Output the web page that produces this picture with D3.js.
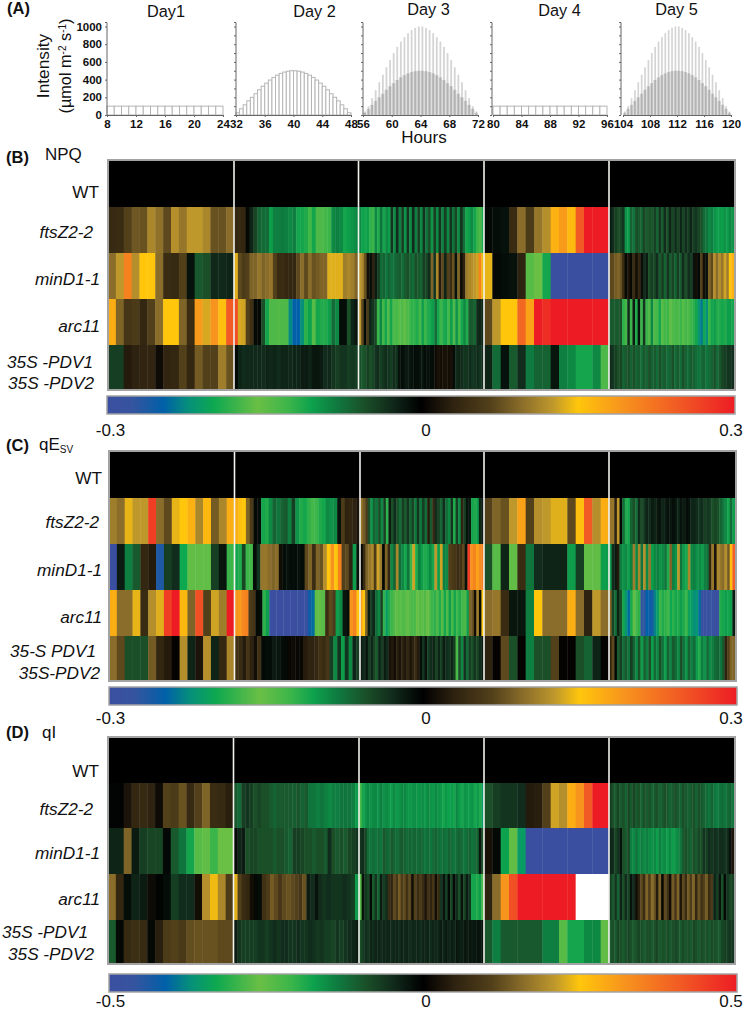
<!DOCTYPE html>
<html><head><meta charset="utf-8">
<script src="https://cdn.jsdelivr.net/npm/d3@7"></script>
<style>html,body{margin:0;background:#fff}svg{display:block}text{font-family:"Liberation Sans",Arial,sans-serif;fill:#111}</style>
</head><body><svg id="c" width="750" height="1011"></svg>
<script>
// ---------- Panel A: light regime (µmol m-2 s-1) ----------
const dayNames = ["Day1","Day 2","Day 3","Day 4","Day 5"];
const dayStarts = [8,32,56,80,104];
const yTicks = [0,200,400,600,800,1000];
const lowLight = [100,100,100,100,100,100,100,100,100,100,100,100,100,100,100,100];
const peak500 = [25,70,115,160,200,240,285,325,360,395,425,450,470,485,495,500,500,495,485,470,450,425,395,360,325,285,240,200,160,115,70,25];
const peak1000 = [40,100,190,280,370,455,540,620,700,770,830,880,925,960,985,1000,1000,985,960,925,880,830,770,700,620,540,455,370,280,190,100,40];

// ---------- Heat maps: each row = [day1, day2, day3, day4, day5], % of colour-bar full scale ----------
const wtRow = [[0],[0],[0],[0],[0]];
const npq_ftsZ = [
[13,14,22,27,26,38,33,24,40,34,42,42,38,26,26,32],
[12,13,12,-2,-8,-16,-22,-24,-24,-34,-28,-28,-27,-28,-30,-28,-36,-36,-38,-44,-36,-46,-46,-44,-42,-30,-28,-30,-36,-34,-32,-30],
[-30,-35,-36,-34,-40,-42,-30,-38,-26,-36,-30,-34,-12,-30,-10,-28,-14,-32,-12,-30,-10,-28,-14,-30,-12,-26,-18,-32,-14,-30,-12,-28,-14,-30,-12,-26,-16,-30,-12,-24,-36,-34,-30,-36,-42,-46,-38],
[-2,-3,-4,14,32,20,34,40,56,62,53,82,100,100,100],
[-6,-10,-14,-18,-16,-12,-32,-34,-22,-26,-18,-20,-22,-16,-20,-18,-20,-14,-22,-12,-20,-10,-18,-8,-16,-10,-16,-8,-16,-10,-14,-8,-14,-12,-16,-18,-24,-26,-30,-28,-32,-34,-34,-34,-32,-34,-30,-32]];
const npq_minD = [
[32,42,70,40,50,50,32,14,13,22,-4,-20,-18,-9,-9,-8],
[46,24,20,22,30,30,34,30,32,34,22,14,14,12,12,12,24,32,24,32,26,28,30,30,46,46,46,46,36,38,36,30],
[42,38,26,4,-3,10,-6,-14,-24,-22,-26,-22,-26,-24,-22,-20,-24,-20,-18,-22,-24,-18,-20,-22,-14,-16,-10,30,-12,38,8,24,-8,22,14,26,-4,30,4,10,36,38,40,42,44,70,48],
[47,-2,-3,-4,10,-48,-52,-36,-100,-100,-100,-100,-100,-100,-100],
[24,24,28,30,26,14,-2,6,2,14,4,12,3,-10,-6,-18,-14,-16,-10,-20,-14,-22,-12,-20,-16,-22,-14,-20,-10,-18,-10,-14,-4,4,-2,22,4,-4,30,24,40,32,40,34,44,36,50,56]];
const npq_arc = [
[57,30,18,20,12,22,32,50,50,30,14,62,45,64,52,82],
[85,45,44,22,16,-2,-2,-18,-36,-46,-46,-47,-46,-46,-75,-82,-82,-74,-40,-35,-48,-36,-38,-38,-34,-24,-30,-3,-3,-18,-8,-5],
[42,24,-2,20,-8,-12,-16,-42,-30,-44,-36,-46,-36,-46,-44,-48,-46,-50,-46,-44,-40,-40,-38,-44,-34,-42,-38,-36,-34,-24,-36,-42,-38,-36,-44,-34,-46,-32,-44,-36,-30,-38,-20,-20,-22,-10,-8,-8],
[24,42,50,50,78,60,100,95,100,100,100,100,100,100,100],
[-20,-20,-20,-20,-18,-40,-44,-10,-42,-6,-38,-4,-42,-12,-42,-46,-30,-46,-44,-36,-48,-44,-42,-50,-46,-44,-46,-42,-48,-44,-46,-42,-40,-36,-72,-78,-66,-74,-42,-36,-34,-38,-38,-36,-38,-34,-34,-36]];
const npq_pdv = [
[-14,-14,8,10,11,11,3,11,12,22,12,28,22,22,36,26],
[-2,-8,-10,-9,-9,-9,-9,-10,-8,-9,-8,-10,-8,-8,-9,-8,-8,-6,-6,-8,-5,-5,-6,-10,-9,-12,-14,-12,-12,-14,-13,-14],
[-18,-20,-18,-14,-18,-16,-12,-10,-14,-12,-10,-12,-14,-10,-12,-4,-3,-4,-6,-5,-4,-3,-3,-4,-5,-3,-4,-3,-3,3,5,4,5,5,4,5,-3,-10,-8,-10,-12,-12,-10,-12,-12,-10,-12,-10],
[-8,-24,-4,-20,-10,-27,-22,-22,-5,-28,-30,-36,-36,-30,-46],
[-10,-12,-14,-18,-16,-22,-20,-18,-22,-18,-22,-20,-24,-20,-22,-18,-22,-20,-24,-18,-22,-20,-24,-22,-18,-24,-20,-24,-18,-22,-24,-20,-22,-24,-26,-24,-22,-26,-24,-22,-18,-24,-20,-16,-14,-12,-12,-10]];

const qe_ftsZ = [
[36,32,47,42,42,90,32,24,47,50,56,38,54,28,38,57],
[57,52,50,30,20,-2,-3,-36,-38,-30,-22,-26,-22,-20,-28,-14,-32,-38,-36,-40,-44,-42,-38,-36,-30,-32,-30,-4,20,10,12,10,6],
[34,28,20,-18,-32,-22,-26,-18,-30,-14,-40,-6,-18,-10,-18,-24,-14,-20,-12,-22,-16,-26,-12,-26,-14,-24,8,-20,12,-10,-16,-22,-10,-24,-30,-12,-38,-14,-30,10,-14,-4,-6,-36,-38,-34,-8,-6],
[22,30,26,42,60,22,40,42,46,46,24,52,82,40,57],
[34,34,10,42,-2,-24,-38,-36,-22,-18,-24,-10,-18,-12,-8,-10,-6,-8,-5,-4,-8,-6,-4,-5,-3,-5,-8,-4,-6,-3,-4,-8,-8,-10,-12,-10,-14,-12,-14,-18,-16,-18,-22,-26,-30,-36,-24,-34]];
const qe_minD = [
[-100,-6,-28,-20,12,8,-88,-14,-10,-66,-50,-50,-50,-14,-5,-42],
[-36,-38,-16,-42,-44,-3,-12,34,34,32,30,32,4,-3,-4,-3,-3,-4,-3,24,30,14,30,26,40,50,64,50,70,22,24,10,-34,-4],
[-2,14,30,34,38,20,44,36,-2,30,12,-30,-22,38,-24,-30,-36,-26,-42,44,-38,-28,-34,-38,-36,-30,-36,42,-34,44,-28,-30,22,20,18,14,16,24,-4,90,64,70,60,66,70],
[-18,-48,-8,-50,14,-26,-10,-8,-8,-8,-34,-14,-50,-50,-34],
[-34,-10,-6,8,-28,-32,-30,-34,-28,36,-30,38,-26,40,-30,34,-34,-30,-28,-32,-30,-26,-38,30,-28,-32,42,-26,-34,-36,38,-30,-28,-32,-30,-34,-28,-26,12,34,6,38,34,32,40,28,52,80]];
const qe_arc = [
[57,32,32,47,14,40,46,90,100,54,30,85,22,44,36,100],
[64,62,68,70,20,18,-2,-3,-40,-34,-100,-100,-100,-100,-100,-100,-100,-100,-100,-100,-100,-85,-80,-50,-50,-48,14,24,20,-34,-30,-5,-3,64,70,50],
[60,50,30,-6,-14,-8,-24,-30,-14,-60,-70,-38,-42,-46,-50,-48,-48,-46,-50,-48,-46,-44,-52,-48,-50,-46,-52,-48,-42,-40,-46,-38,-48,-36,-46,-34,-44,-36,-42,-38,-44,-46,-34,30,26,4,36,-2,50],
[32,34,14,-5,-5,-28,50,32,32,32,57,32,10,42,32],
[30,-16,-24,-8,-18,-36,-72,-80,-64,-50,-58,-40,-92,-90,-82,-84,-86,-76,-70,-42,-38,-40,-44,-66,-40,-36,-38,-34,-38,-42,-68,-70,-74,-72,-80,-96,-100,-98,-92,-96,-100,-98,-38,-36,-34,-36,-34,-6]];
const qe_pdv = [
[32,24,-18,-18,-18,28,12,8,1,40,-8,6,40,-8,12,38],
[16,14,8,18,10,4,16,-2,-3,-3,-6,-5,-3,-2,2,3,2,2,8,10,10,12,16,14,18,-14,-30,-12,-34,-12,-30,-8,-14],
[-6,-10,-4,-14,-8,-16,-20,-8,-14,-6,-10,5,8,4,9,6,10,7,12,6,10,14,8,-3,-12,-4,-14,-10,-8,-16,-8,-14,-6,-10,-12,-8,-14,-45,-18,-30,-12,-24,-14,-18,-12,-16,-10,-6],
[10,1,24,-18,1,-28,-18,-18,22,1,1,-18,-22,-8,1],
[12,24,-2,-20,-14,-24,-20,-26,-14,-22,-30,-18,-34,-22,-28,-18,-34,-24,-30,-18,-26,-34,-22,-28,-20,-24,-30,-18,-26,-32,-22,-28,-24,-34,-38,-28,-32,-24,-30,-28,-24,-22,-26,-20,10,22,30,30]];

const qi_ftsZ = [
[-1,-1,6,12,13,10,3,22,20,26,13,22,30,14,13,9],
[-20,-24,-14,-12,-14,-18,-16,-18,-18,-20,-22,-20,-20,-20,-20,-21,-19,-22,-20,-26,-26,-28,-26,-28,-30,-28,-28,-26,-26,-26,-28,-34],
[-46,-36,-32,-30,-32,-30,-30,-32,-28,-32,-30,-32,-34,-30,-33,-32,-30,-30,-32,-33,-32,-31,-33,-32,-31,-33,-30,-32,-33,-30,-32,-33,-36,-33,-35,-34,-36,-30,-33,-36,-32,-33,-34,-32,-36,-33,-38,-70],
[-18,-14,-12,-12,-10,8,9,22,44,40,57,64,82,100,100],
[-14,-18,-20,-16,-20,-18,-22,-16,-20,-16,-20,-18,-22,-18,-20,-18,-22,-20,-18,-22,-20,-18,-20,-22,-20,-18,-20,-22,-18,-20,-22,-20,-18,-22,-18,-20,-22,-24,-26,-22,-26,-28,-26,-24,-26,-24,-22,-26]];
const qi_minD = [
[-8,-8,30,-6,-14,-16,-16,-2,-20,-26,-36,-48,-50,-42,-52,-52],
[-2,-8,-6,-18,-16,-16,-18,-18,-18,-18,-20,-18,-18,-20,-22,-14,-14,-16,-18,-18,-20,-18,-18,-20,-10,-18,-20,-18,-20,-16,-14,-12],
[-12,-10,-16,-24,-26,-24,-26,-24,-26,-20,-22,-24,-20,-22,-24,-22,-20,-22,-24,-22,-24,-22,-24,-22,-24,-26,-24,-26,-24,-22,-24,-26,-24,-26,-22,-24,-26,-24,-22,-24,-26,-24,-22,-26,-24,-22,-5,-18],
[5,-2,-35,-50,-70,-100,-100,-100,-100,-100,-100,-100,-100,-100,-100],
[-8,-10,-16,-12,-4,-18,-20,-16,-28,-30,-26,-30,-28,-30,-28,-30,-32,-30,-34,-28,-32,-30,-34,-30,-34,-32,-30,-26,-20,-18,-20,-22,-18,-20,-16,-18,-12,-14,-10,-12,-10,-12,-10,-10,-12,-10,-4,6]];
const qi_arc = [
[32,12,-3,-8,-6,3,-1,-3,-14,-10,-10,4,40,48,38,20],
[46,22,14,12,4,-2,-3,16,20,28,24,18,24,26,24,22,18,26,-6,-10,-4,-10,-12,-10,-12,-12,-12,-10,-12,-14,-34],
[-48,-4,-12,-16,-2,-20,-12,-22,-6,-14,-10,14,10,24,18,28,20,24,16,24,4,22,14,20,14,6,16,10,18,4,14,-12,-4,-14,-2,-16,-2,-10,-18,-4,-16,-6,-12,-36,-36,-38,-34,-46],
[10,32,64,85,100,100,100,100,100,100,100,null,null,null,null],
[-14,-20,-12,-22,-8,-18,-10,-16,-4,-10,4,10,24,14,30,20,32,26,8,30,2,24,16,4,28,18,30,6,24,14,28,20,30,12,26,16,22,28,14,20,-8,-14,-4,-18,-2,-12,-16,-14]];
const qi_pdv = [
[-20,-2,13,15,13,-2,9,20,22,19,25,26,26,26,24,24],
[-6,-12,-14,-14,-14,-14,-12,-12,-14,-12,-10,-12,-10,-10,-12,-12,-10,-12,-12,-10,-11,-13,-12,-14,-14,-16,-12,-14,-12,-10,-8,-6],
[-18,-14,-10,-12,-8,-10,-8,-8,-10,-8,-9,-8,-10,-8,-8,-10,-8,-9,-8,-10,-8,-9,-8,-10,-8,-9,-8,-10,-8,-9,-8,-6,-8,-6,-8,-6,-8,-5,-6,-7,-5,-6,-5,-6,-5,-4,-5,-4],
[-20,-28,-20,-20,-20,-20,-20,-28,-28,-48,-36,-36,-30,-30,-50],
[-20,-18,-20,-16,-18,-20,-18,-16,-18,-20,-18,-16,-18,-20,-18,-17,-20,-18,-16,-20,-18,-19,-17,-20,-18,-16,-18,-20,-17,-19,-18,-20,-16,-18,-20,-17,-19,-18,-20,-17,-18,-19,-20,-16,-14,-14,-12,-12]];

// Colour scale (value in % of full scale)
const colourDomain = [-100,-92,-82,-74,-66,-52,-42,-35,-27,-18,-9,0,10,22,32,42,50,64,82,100];
const colourRange = ["#3b4fa0","#36549f","#0060a8","#06907a","#0da850","#6abf45","#3bb54a","#0da24d","#0f7a3f","#1a4f28","#10281a","#000000","#2e2210","#52401a","#8a6d2a","#bf982c","#ffc60b","#f7941d","#f15a24","#ed1c24"];
const colour = d3.scaleLinear().domain(colourDomain).range(colourRange).clamp(true);

const panels = [
 {tag:"(B)",tagY:163,title:"NPQ",titleX:45,titleY:160,x0:108,x1:734,seps:[234,358.5,484,609],ys:[160,207,253,299,345,390],
  rows:[wtRow,npq_ftsZ,npq_minD,npq_arc,npq_pdv],
  labels:[[198,"WT",0,99],[238,"ftsZ2-2",1,93],[285,"minD1-1",1,100],[332,"arc11",1,100],[368,"35S -PDV1",1,93],[389,"35S -PDV2",1,94]],
  bar:[396,414,107,735],barLabel:["-0.3","0","0.3"],labelY:436},
 {tag:"(C)",tagY:451,title:"qE",titleX:39,titleY:450,x0:109,x1:735,seps:[234.5,360,484,609],ys:[451,498,544,590,636,681],
  rows:[wtRow,qe_ftsZ,qe_minD,qe_arc,qe_pdv],
  labels:[[484,"WT",0,102],[528,"ftsZ2-2",1,99],[576,"minD1-1",1,102],[623,"arc11",1,102],[657,"35-S PDV1",1,96],[679,"35S-PDV2",1,100]],
  bar:[687,705,109,737],barLabel:["-0.3","0","0.3"],labelY:724},
 {tag:"(D)",tagY:738,title:"qI",titleX:42,titleY:738,x0:108,x1:734,seps:[233.5,359,484,609],ys:[737,783,828,874,920,964],
  rows:[wtRow,qi_ftsZ,qi_minD,qi_arc,qi_pdv],
  labels:[[777,"WT",0,99],[815,"ftsZ2-2",1,93],[859,"minD1-1",1,100],[905,"arc11",1,100],[938,"35S -PDV1",1,88],[960,"35S -PDV2",1,94]],
  bar:[974,992,109,737],barLabel:["-0.5","0","0.5"],labelY:1007}
];

const svg = d3.select("#c");
const defs = svg.append("defs");

// ---------- Panel A ----------
const gA = svg.append("g");
gA.append("text").attr("x",7).attr("y",14).attr("font-weight","bold").attr("font-size",16.5).text("(A)");
const yA = d3.scaleLinear().domain([0,1000]).range([115,26.5]);
const dayX = [[107,223],[236,351],[363,478],[493,607],[623,731]];
const axisX = [107,236,363,492,621];
const dayTitleX = [166,314.5,428.5,559.5,676.5];
const dayTitleY = [17,17,15,16,15];
const bars = [[lowLight],[peak500],[peak500,peak1000],[lowLight],[peak500,peak1000]];
dayNames.forEach((name,i)=>{
  const st = dayStarts[i];
  const x = d3.scaleLinear().domain([st,st+16]).range(dayX[i]);
  const g = gA.append("g");
  bars[i].forEach((vals,si)=>{
    const step = 16/vals.length;
    const both = bars[i].length>1;
    g.selectAll(null).data(vals).join("rect")
      .attr("x",(d,k)=>x(st+k*step)+(si==1?(x(st+step)-x(st))*0.28:0))
      .attr("y",d=>yA(d))
      .attr("width",(x(st+step)-x(st))*(si==1?0.5:1))
      .attr("height",d=>yA(0)-yA(d))
      .attr("fill",both?(si==0?"#d6d6d6":"#000"):"#fff")
      .attr("fill-opacity",both&&si==1?0.17:1)
      .attr("stroke",both?"none":"#b5b5b5").attr("stroke-width",1);
  });
  const ax = d3.axisBottom(x).tickValues(d3.range(st,st+17,4)).tickSize(2);
  const ga = g.append("g").attr("transform","translate(0,115)").call(ax);
  ga.select(".domain").attr("stroke","#666");
  ga.selectAll("line").attr("stroke","#666");
  ga.selectAll("text").attr("font-size",11.5).attr("font-weight","bold").attr("font-family","Liberation Sans").attr("dy","0.75em").attr("y",4);
  const ay = d3.axisLeft(yA).tickValues(i==0?yTicks:d3.range(0,1001,100)).tickSize(2).tickFormat(i==0?d3.format("d"):"");
  const gy = g.append("g").attr("transform",`translate(${axisX[i]},0)`).call(ay);
  gy.select(".domain").attr("stroke","#666").attr("d","M-2,22.5H0V115");
  gy.selectAll("line").attr("stroke","#666");
  gy.selectAll("text").attr("font-size",11.5).attr("font-weight","bold").attr("font-family","Liberation Sans");
  gA.append("text").attr("x",dayTitleX[i]).attr("y",dayTitleY[i]).attr("text-anchor","middle").attr("font-size",16.3).text(name);
});
gA.append("text").attr("x",424).attr("y",143).attr("text-anchor","middle").attr("font-size",17).text("Hours");
gA.append("text").attr("transform","translate(49,66) rotate(-90)").attr("text-anchor","middle").attr("font-size",17.3).text("Intensity");
const unit = gA.append("text").attr("transform","translate(71,66) rotate(-90)").attr("text-anchor","middle").attr("font-size",16.3);
unit.append("tspan").text("(µmol m");
unit.append("tspan").attr("dy",-5).attr("font-size",10).text("-2");
unit.append("tspan").attr("dy",5).text(" s");
unit.append("tspan").attr("dy",-5).attr("font-size",10).text("-1");
unit.append("tspan").attr("dy",5).text(")");

// ---------- Heat-map panels ----------
panels.forEach((p,pi)=>{
  const g = svg.append("g");
  g.append("text").attr("x",6).attr("y",p.tagY).attr("font-weight","bold").attr("font-size",16.5).text(p.tag);
  const tt = g.append("text").attr("x",p.titleX).attr("y",p.titleY).attr("font-size",17).text(p.title);
  if(pi==1) tt.append("tspan").attr("dy",3).attr("font-size",10).text("SV");
  const edges = [p.x0,...p.seps,p.x1];
  p.rows.forEach((row,ri)=>{
    const y0=p.ys[ri], y1=p.ys[ri+1];
    row.forEach((vals,di)=>{
      const xb = d3.scaleBand().domain(d3.range(vals.length)).range([edges[di],edges[di+1]]);
      g.selectAll(null).data(vals).join("rect")
        .attr("x",(d,k)=>xb(k)).attr("y",y0)
        .attr("width",xb.bandwidth()+0.4).attr("height",y1-y0)
        .attr("fill",d=>d===null?"#fff":colour(d));
    });
  });
  g.selectAll(null).data(p.seps).join("line")
    .attr("x1",d=>d).attr("x2",d=>d).attr("y1",p.ys[0]).attr("y2",p.ys[5])
    .attr("stroke","#f2f2ee").attr("stroke-width",1.6);
  g.append("rect").attr("x",p.x0).attr("y",p.ys[0]).attr("width",p.x1-p.x0+1).attr("height",p.ys[5]-p.ys[0])
    .attr("fill","none").attr("stroke","#a3a3a3").attr("stroke-width",2);
  p.labels.forEach(([y,s,it,rx])=>{
    g.append("text").attr("x",rx).attr("y",y).attr("text-anchor","end").attr("font-size",17.2)
      .attr("font-style",it?"italic":"normal").text(s);
  });
  // colour bar
  const [by0,by1,bx0,bx1]=p.bar;
  const id="grad"+pi;
  const lg=defs.append("linearGradient").attr("id",id);
  colourDomain.forEach((d,k)=>lg.append("stop").attr("offset",((d+100)/2)+"%").attr("stop-color",colourRange[k]));
  g.append("rect").attr("x",bx0).attr("y",by0).attr("width",bx1-bx0).attr("height",by1-by0)
    .attr("fill",`url(#${id})`).attr("stroke","#a3a3a3").attr("stroke-width",1.5);
  const labelX=[110.5,426,731];
  p.barLabel.forEach((s,k)=>{
    g.append("text").attr("x",labelX[k]).attr("y",p.labelY).attr("text-anchor","middle").attr("font-size",17).text(s);
  });
});
</script></body></html>
